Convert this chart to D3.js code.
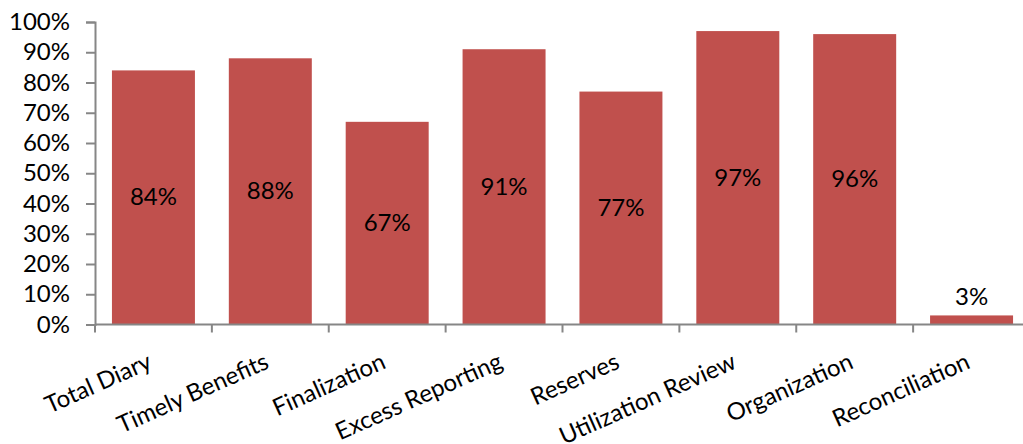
<!DOCTYPE html>
<html>
<head>
<meta charset="utf-8">
<script src="https://cdn.jsdelivr.net/npm/d3@7"></script>
<style>
  html, body { margin: 0; padding: 0; background: #fff; }
  svg { display: block; font-family: Lato, "Open Sans", sans-serif; }
</style>
</head>
<body>
<svg id="chart" width="1023" height="444"></svg>
<script>
// Share of items meeting the standard, by review area
const categories = ["Total Diary", "Timely Benefits", "Finalization", "Excess Reporting",
                    "Reserves", "Utilization Review", "Organization", "Reconciliation"];
const values = [0.84, 0.88, 0.67, 0.91, 0.77, 0.97, 0.96, 0.03];
const yTicks = [0, 0.1, 0.2, 0.3, 0.4, 0.5, 0.6, 0.7, 0.8, 0.9, 1.0];

const svg = d3.select("#chart");
const axisColor = "#868686";
const barColor = "#C0504D";
const fontSize = 24;

const x = d3.scaleBand()
  .domain(categories)
  .range([95, 1030])
  .paddingInner(0.29)
  .paddingOuter(0.145);

const y = d3.scaleLinear().domain([0, 1]).range([324.5, 22]);
const pct = d3.format(".0%");

// Bars
svg.append("g").selectAll("rect")
  .data(categories)
  .join("rect")
  .attr("x", d => x(d))
  .attr("width", x.bandwidth())
  .attr("y", (d, i) => y(values[i]))
  .attr("height", (d, i) => y(0) - y(values[i]))
  .attr("fill", barColor);

// Y axis
const yAxis = svg.append("g").attr("transform", "translate(95,0)")
  .call(d3.axisLeft(y).tickValues(yTicks).tickFormat(pct).tickSize(9).tickPadding(16));
yAxis.select(".domain").attr("stroke", axisColor).attr("stroke-width", 2);
yAxis.selectAll(".tick line").attr("stroke", axisColor).attr("stroke-width", 2);
yAxis.selectAll(".tick text")
  .attr("font-size", fontSize).attr("fill", "#000")
  .style("font-family", "Lato, 'Open Sans', sans-serif");

// X axis baseline with ticks on category boundaries
const [x0, x1] = x.range();
const step = x.step();
const xg = svg.append("g");
xg.append("line")
  .attr("x1", x0).attr("x2", x1)
  .attr("y1", y(0)).attr("y2", y(0))
  .attr("stroke", axisColor).attr("stroke-width", 2);
xg.selectAll("line.tick")
  .data(d3.range(categories.length + 1))
  .join("line")
  .attr("class", "tick")
  .attr("x1", i => x0 + i * step).attr("x2", i => x0 + i * step)
  .attr("y1", y(0)).attr("y2", y(0) + 8)
  .attr("stroke", axisColor).attr("stroke-width", 2);

// Rotated category labels
svg.append("g").selectAll("text")
  .data(categories)
  .join("text")
  .attr("transform", d => `translate(${x(d) + x.bandwidth() / 2},${y(0) + 43}) rotate(-24)`)
  .attr("text-anchor", "end")
  .attr("font-size", fontSize)
  .attr("fill", "#000")
  .text(d => d);

// Value labels
svg.append("g").selectAll("text")
  .data(categories)
  .join("text")
  .attr("x", d => x(d) + x.bandwidth() / 2)
  .attr("y", (d, i) => values[i] < 0.1 ? y(values[i]) - 10 : (y(values[i]) + y(0)) / 2 + 8)
  .attr("text-anchor", "middle")
  .attr("font-size", fontSize)
  .attr("fill", "#000")
  .text((d, i) => pct(values[i]));
</script>
</body>
</html>
